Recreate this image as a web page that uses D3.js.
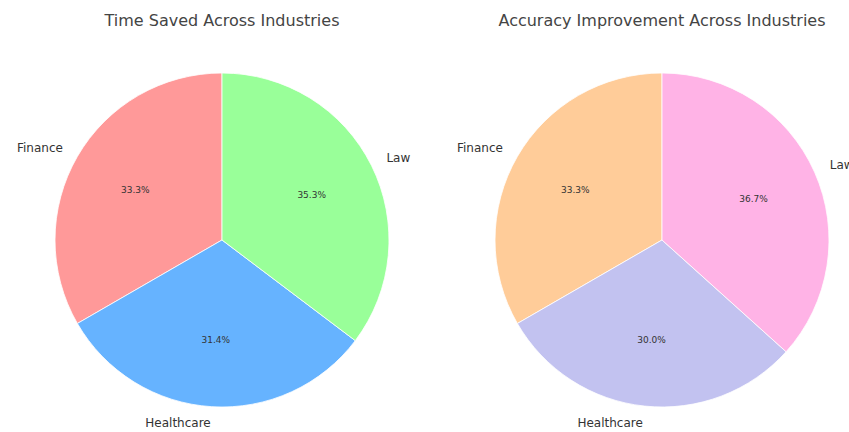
<!DOCTYPE html>
<html>
<head>
<meta charset="utf-8">
<script src="https://cdn.jsdelivr.net/npm/d3@7"></script>
<style>
  html, body { margin: 0; padding: 0; background: #fff; }
  svg { display: block; font-family: "DejaVu Sans", sans-serif; }
</style>
</head>
<body>
<svg id="chart" width="849" height="432"></svg>
<script>
// ---- data ----
const industries = ["Finance", "Healthcare", "Law"];
const timeSaved = [17, 16, 18];           // -> 33.3%, 31.4%, 35.3%
const accuracyImprovement = [10, 9, 11];  // -> 33.3%, 30.0%, 36.7%
const titles = ["Time Saved Across Industries", "Accuracy Improvement Across Industries"];
const timeColors = ["#ff9999", "#66b3ff", "#99ff99"];
const accuracyColors = ["#ffcc99", "#c2c2f0", "#ffb3e6"];

const svg = d3.select("#chart");
const W = 849, H = 432;
const radius = 167;
const cy = 240;

function drawPie(cx, values, colors, title) {
  const data = industries.map((name, i) => ({ name, value: values[i], color: colors[i] }));
  const total = d3.sum(values);
  // matplotlib: startangle=90, counter-clockwise
  const pie = d3.pie().sort(null).value(d => d.value).startAngle(0).endAngle(-2 * Math.PI);
  const arcs = pie(data);
  const arc = d3.arc().innerRadius(0).outerRadius(radius);
  const g = svg.append("g").attr("transform", `translate(${cx},${cy})`);

  g.selectAll("path.slice").data(arcs).join("path")
    .attr("class", "slice")
    .attr("d", arc)
    .attr("fill", d => d.data.color)
    .attr("stroke", "#ffffff")
    .attr("stroke-width", 0.8);

  // outer labels at 1.1 r
  g.selectAll("text.lbl").data(arcs).join("text")
    .attr("class", "lbl")
    .each(function (d) {
      const a = (d.startAngle + d.endAngle) / 2;
      const x = Math.sin(a) * radius * 1.1;
      const y = -Math.cos(a) * radius * 1.1;
      d3.select(this)
        .attr("x", x).attr("y", y)
        .attr("text-anchor", x < 0 ? "end" : "start")
        .attr("dominant-baseline", "central");
    })
    .attr("font-size", 12)
    .attr("fill", "#333")
    .text(d => d.data.name);

  // percentage labels at 0.6 r
  g.selectAll("text.pct").data(arcs).join("text")
    .attr("class", "pct")
    .each(function (d) {
      const a = (d.startAngle + d.endAngle) / 2;
      d3.select(this)
        .attr("x", Math.sin(a) * radius * 0.6)
        .attr("y", -Math.cos(a) * radius * 0.6);
    })
    .attr("text-anchor", "middle")
    .attr("dominant-baseline", "central")
    .attr("font-size", 9)
    .attr("fill", "#333")
    .text(d => (d.data.value / total * 100).toFixed(1) + "%");

  svg.append("text")
    .attr("x", cx).attr("y", 26)
    .attr("text-anchor", "middle")
    .attr("font-size", 16)
    .attr("fill", "#444")
    .text(title);
}

drawPie(222, timeSaved, timeColors, titles[0]);
drawPie(662, accuracyImprovement, accuracyColors, titles[1]);
</script>
</body>
</html>
